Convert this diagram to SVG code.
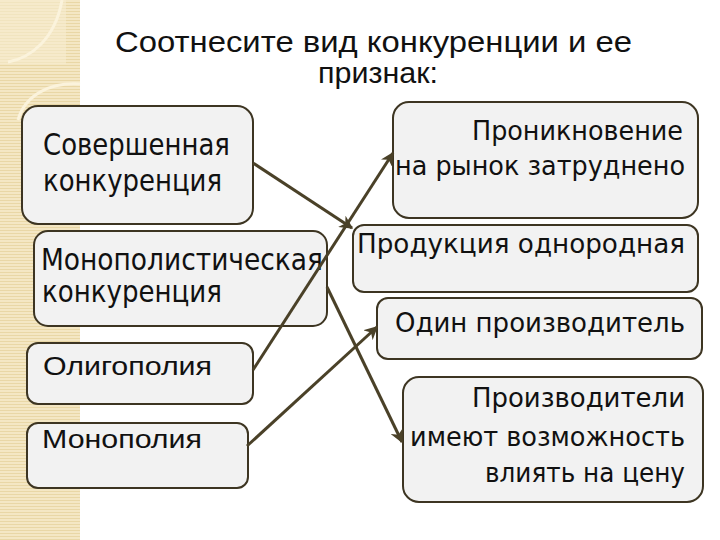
<svg xmlns="http://www.w3.org/2000/svg" width="720" height="540" viewBox="0 0 720 540">
<defs>
<pattern id="stripe" width="6" height="3" patternUnits="userSpaceOnUse">
<rect width="6" height="3" fill="#f4e7c4"/>
<rect y="2" width="6" height="1" fill="#e9d7a6"/>
</pattern>
<marker id="arr" viewBox="0 0 10 10" refX="9" refY="5" markerWidth="4.5" markerHeight="4.5" orient="auto" markerUnits="strokeWidth">
<path d="M0,0 L10,5 L0,10 L3,5 Z" fill="#4a4128"/>
</marker>
<style>
.box{fill:#f2f2f2;stroke:#3d3522;stroke-width:2}
.t{font-family:"DejaVu Sans","Noto Sans",sans-serif;font-size:26px;fill:#111}
.big{font-size:30px}
.sm{font-family:"Liberation Sans",Arial,sans-serif;font-size:26px}
.title{font-family:"Liberation Sans",Arial,sans-serif;font-size:29px;fill:#111}
.con{stroke:#4a4128;stroke-width:3;fill:none;marker-end:url(#arr)}
</style>
</defs>
<rect width="720" height="540" fill="#ffffff"/>
<g id="strip">
<rect x="0" y="0" width="80" height="540" fill="url(#stripe)"/>
<rect x="0" y="0" width="66" height="64" fill="#f6ecd0" opacity="0.6"/>
<path d="M8,62 C30,58 55,40 62,0" stroke="#fbf3dc" stroke-width="3" fill="none"/>
<path d="M18,120 C25,95 50,82 80,84" stroke="#fbf3dc" stroke-width="3" fill="none"/>
</g>
<g id="title">
<text class="title" x="115" y="52" textLength="517" lengthAdjust="spacingAndGlyphs">Соотнесите вид конкуренции и ее</text>
<text class="title" x="318" y="83" textLength="120" lengthAdjust="spacingAndGlyphs">признак:</text>
</g>
<g id="n1"><rect class="box" x="22" y="106" width="231" height="118" rx="16"/>
<text class="t big" x="43" y="155" textLength="187" lengthAdjust="spacingAndGlyphs">Совершенная</text>
<text class="t big" x="43" y="191" textLength="179" lengthAdjust="spacingAndGlyphs">конкуренция</text></g>
<g id="n2"><rect class="box" x="34" y="231" width="293" height="95" rx="14"/>
<text class="t big" x="41" y="270" textLength="282" lengthAdjust="spacingAndGlyphs">Монополистическая</text>
<text class="t big" x="42" y="302" textLength="180" lengthAdjust="spacingAndGlyphs">конкуренция</text></g>
<g id="n3"><rect class="box" x="27" y="343" width="226" height="61" rx="11"/>
<text class="t sm" x="43" y="375" textLength="169" lengthAdjust="spacingAndGlyphs">Олигополия</text></g>
<g id="n4"><rect class="box" x="27" y="423" width="221" height="65" rx="11"/>
<text class="t sm" x="42" y="448" textLength="160" lengthAdjust="spacingAndGlyphs">Монополия</text></g>
<g id="n5"><rect class="box" x="393" y="102" width="305" height="116" rx="16"/>
<text class="t" x="472" y="140" textLength="211" lengthAdjust="spacingAndGlyphs">Проникновение</text>
<text class="t" x="395" y="175" textLength="290" lengthAdjust="spacingAndGlyphs">на рынок затруднено</text></g>
<g id="n6"><rect class="box" x="353" y="225" width="345" height="67" rx="11"/>
<text class="t" x="357" y="253" textLength="328" lengthAdjust="spacingAndGlyphs">Продукция однородная</text></g>
<g id="n7"><rect class="box" x="377" y="298" width="325" height="61" rx="11"/>
<text class="t" x="395" y="332" textLength="290" lengthAdjust="spacingAndGlyphs">Один производитель</text></g>
<g id="n8"><rect class="box" x="403" y="377" width="300" height="125" rx="16"/>
<text class="t" x="472" y="407" textLength="213" lengthAdjust="spacingAndGlyphs">Производители</text>
<text class="t" x="410" y="446" textLength="275" lengthAdjust="spacingAndGlyphs">имеют возможность</text>
<text class="t" x="485" y="482" textLength="200" lengthAdjust="spacingAndGlyphs">влиять на цену</text></g>
<g id="connectors">
<line class="con" x1="253" y1="163" x2="352" y2="228"/>
<line class="con" x1="253" y1="370" x2="393" y2="153"/>
<line class="con" x1="247" y1="446" x2="377" y2="327"/>
<line class="con" x1="327" y1="287" x2="402" y2="442"/>
</g>
</svg>
